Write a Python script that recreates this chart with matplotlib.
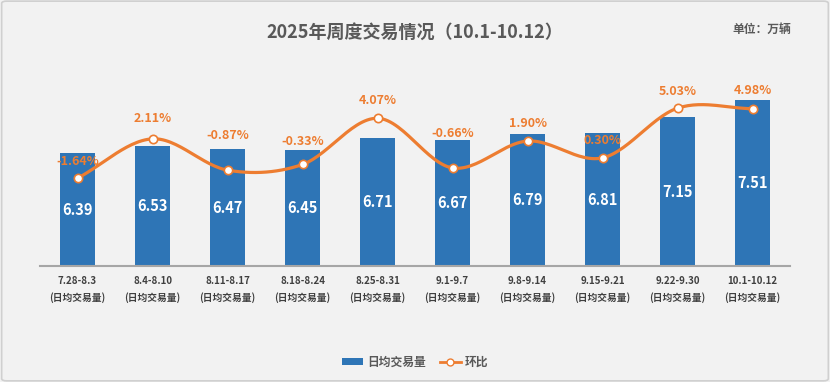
import matplotlib
matplotlib.use("Agg")
import matplotlib.pyplot as plt
import numpy as np
from matplotlib.patches import FancyBboxPatch
from matplotlib.lines import Line2D
from matplotlib.patches import Patch

plt.rcParams['font.family'] = ['Noto Sans CJK SC', 'DejaVu Sans']

# data
weeks = ['7.28-8.3', '8.4-8.10', '8.11-8.17', '8.18-8.24', '8.25-8.31',
         '9.1-9.7', '9.8-9.14', '9.15-9.21', '9.22-9.30', '10.1-10.12']
daily_volume = [6.39, 6.53, 6.47, 6.45, 6.71, 6.67, 6.79, 6.81, 7.15, 7.51]
mom_change = [-1.64, 2.11, -0.87, -0.33, 4.07, -0.66, 1.90, 0.30, 5.03, 4.98]

# how far (px) each % label sits above its point, labels were hand-moved
label_lift = [17, 20, 35, 23, 18, 34, 18, 17, 17, 18]

blue = '#2e75b6'
orange = '#ed7d31'
bg = '#f2f2f2'
dark = '#595959'


def catmull_rom(x, y, n=30):
    # smooth curve through the points (like excel's smoothed line)
    x = np.asarray(x, float)
    y = np.asarray(y, float)
    px = np.concatenate([[2 * x[0] - x[1]], x, [2 * x[-1] - x[-2]]])
    py = np.concatenate([[2 * y[0] - y[1]], y, [2 * y[-1] - y[-2]]])
    xs, ys = [], []
    t = np.linspace(0, 1, n)
    for i in range(1, len(px) - 2):
        for arr, out in ((px, xs), (py, ys)):
            p0, p1, p2, p3 = arr[i - 1], arr[i], arr[i + 1], arr[i + 2]
            out.append(0.5 * ((2 * p1) + (-p0 + p2) * t
                              + (2 * p0 - 5 * p1 + 4 * p2 - p3) * t ** 2
                              + (-p0 + 3 * p1 - 3 * p2 + p3) * t ** 3))
    return np.concatenate(xs), np.concatenate(ys)


fig = plt.figure(figsize=(8.3, 3.82), dpi=100, facecolor=bg)
fig.patches.append(FancyBboxPatch((0.002, 0.003), 0.996, 0.994,
                                  boxstyle='round,pad=0,rounding_size=0.006',
                                  transform=fig.transFigure, facecolor='none',
                                  edgecolor='#d0d0d0', linewidth=1.2))

ax = fig.add_axes([40 / 830, 116 / 382, 750 / 830, 189 / 382])
ax.set_facecolor(bg)
x = np.arange(len(weeks))
ax.bar(x, daily_volume, width=0.46, color=blue, zorder=2)
ax.set_ylim(4.0, 8.0)
ax.set_xlim(-0.5, len(weeks) - 0.5)
for xi, v in zip(x, daily_volume):
    ax.text(xi, (4.0 + v) / 2, f'{v:.2f}', ha='center', va='center',
            color='white', fontsize=10.5, fontweight='bold', zorder=3)

ax.set_xticks(x)
ax.set_xticklabels([f'{w}\n(日均交易量)' for w in weeks], fontsize=7,
                   color='#404040', fontweight='bold', linespacing=1.7)
ax.tick_params(axis='x', length=0, pad=7)
ax.set_yticks([])
for s in ['top', 'left', 'right']:
    ax.spines[s].set_visible(False)
ax.spines['bottom'].set_color('#a6a6a6')
ax.spines['bottom'].set_linewidth(1.5)

ax2 = ax.twinx()
ax2.set_ylim(-10, 8)
ax2.axis('off')
sx, sy = catmull_rom(x, mom_change)
ax2.plot(sx, sy, color=orange, linewidth=2.3, zorder=4, solid_capstyle='round')
ax2.plot(x, mom_change, 'o', markersize=6, markerfacecolor='white',
         markeredgecolor=orange, markeredgewidth=1.2, zorder=5)
for xi, m, lift in zip(x, mom_change, label_lift):
    ax2.annotate(f'{m:.2f}%', (xi, m), xytext=(0, lift * 0.72),
                 textcoords='offset points', ha='center', va='center',
                 color=orange, fontsize=9, fontweight='bold', zorder=6)

fig.text(415 / 830, 1 - 32 / 382, '2025年周度交易情况（10.1-10.12）', ha='center',
         va='center', fontsize=13, fontweight='bold', color=dark)
fig.text(762 / 830, 1 - 29 / 382, '单位：万辆', ha='center', va='center',
         fontsize=8.5, fontweight='bold', color=dark)

handles = [Patch(facecolor=blue, edgecolor='none'),
           Line2D([0], [0], color=orange, linewidth=2, marker='o', markersize=5,
                  markerfacecolor='white', markeredgecolor=orange)]
fig.legend(handles, ['日均交易量', '环比'], loc='center', ncol=2,
           bbox_to_anchor=(415 / 830, 20 / 382), frameon=False,
           prop={'size': 8.5, 'weight': 'bold'}, labelcolor=dark,
           handlelength=1.8, handleheight=0.5, handletextpad=0.3, columnspacing=1.2)

fig.savefig('out.png', dpi=100, facecolor=bg)
